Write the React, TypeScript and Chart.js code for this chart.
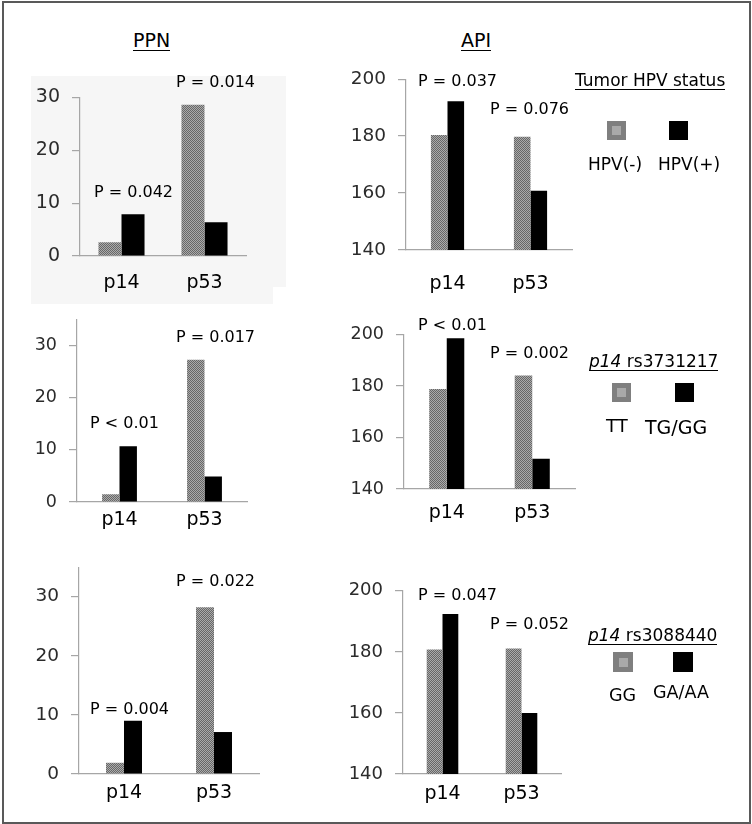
import React, { useEffect, useRef } from 'react';
import { Chart, registerables } from 'chart.js';

Chart.register(...registerables);

// ---------- data ----------
const categories = ['p14', 'p53'];

const ppnTicks = [0, 10, 20, 30];
const apiTicks = [140, 160, 180, 200];

// Row 1: tumor HPV status
const ppnHpvNeg = [2.6, 28.6];
const ppnHpvPos = [7.9, 6.4];
const apiHpvNeg = [180.4, 179.8];
const apiHpvPos = [192.2, 160.8];
const ppnHpvP = ['P = 0.042', 'P = 0.014'];
const apiHpvP = ['P = 0.037', 'P = 0.076'];

// Row 2: p14 rs3731217
const ppnTT = [1.5, 27.3];
const ppnTG = [10.7, 4.9];
const apiTT = [178.8, 184.1];
const apiTG = [198.5, 151.7];
const ppnRs1P = ['P < 0.01', 'P = 0.017'];
const apiRs1P = ['P < 0.01', 'P = 0.002'];

// Row 3: p14 rs3088440
const ppnGG = [1.9, 28.2];
const ppnGA = [9.0, 7.1];
const apiGG = [180.8, 181.1];
const apiGA = [192.4, 160.0];
const ppnRs2P = ['P = 0.004', 'P = 0.022'];
const apiRs2P = ['P = 0.047', 'P = 0.052'];

const legendHpv = ['HPV(-)', 'HPV(+)'];
const legendRs1 = ['TT', 'TG/GG'];
const legendRs2 = ['GG', 'GA/AA'];

// ---------- styles ----------
const FONT = '"DejaVu Sans", sans-serif';
const AXIS = '#a6a6a6';
const TICK_COLOR = '#2b2b2b';

function makePattern(): any {
  const c = document.createElement('canvas');
  c.width = 2;
  c.height = 2;
  const g = c.getContext('2d')!;
  g.fillStyle = '#ababab';
  g.fillRect(0, 0, 2, 2);
  g.fillStyle = '#676767';
  g.fillRect(0, 0, 1, 1);
  g.fillRect(1, 1, 1, 1);
  return g.createPattern(c, 'repeat');
}

type Area = { left: number; right: number; top: number; bottom: number };

const YW = 70;
const PT = 16;
const PR = 6;
const XH = 44;

function BarPanel(props: {
  area: Area;
  a: number[];
  b: number[];
  ticks: number[];
  axisMax: number;
  tickSize: number;
  xPad: number;
  frac: number;
}) {
  const { area, a, b, ticks, axisMax, tickSize, xPad, frac } = props;
  const ref = useRef<HTMLCanvasElement>(null);
  const w = area.right - area.left + YW + PR;
  const h = area.bottom - area.top + PT + XH;
  useEffect(() => {
    const chart = new Chart(ref.current!, {
      type: 'bar',
      data: {
        labels: categories,
        datasets: [
          { data: a, backgroundColor: makePattern(), borderWidth: 0, categoryPercentage: frac, barPercentage: 1 },
          { data: b, backgroundColor: '#000000', borderWidth: 0, categoryPercentage: frac, barPercentage: 1 },
        ],
      },
      options: {
        responsive: false,
        animation: false,
        devicePixelRatio: 1,
        layout: { padding: { left: 0, top: PT, right: PR, bottom: 0 } },
        plugins: { legend: { display: false }, tooltip: { enabled: false } },
        scales: {
          x: {
            offset: true,
            grid: { display: true, drawOnChartArea: false, drawTicks: false, color: 'rgba(0,0,0,0)' },
            border: { display: true, color: AXIS, width: 1.2 },
            ticks: { padding: xPad, color: '#000000', font: { family: FONT, size: 19 } },
            afterFit: (s: any) => {
              s.height = XH;
            },
          },
          y: {
            min: ticks[0],
            max: axisMax,
            grid: { drawOnChartArea: false, drawTicks: true, tickLength: 8, color: AXIS, lineWidth: 1.2 },
            border: { display: true, color: AXIS, width: 1.2 },
            ticks: { padding: 12, color: TICK_COLOR, font: { family: FONT, size: tickSize } },
            afterBuildTicks: (s: any) => {
              s.ticks = ticks.map((v) => ({ value: v }));
            },
            afterFit: (s: any) => {
              s.width = YW;
            },
          },
        },
      } as any,
    });
    return () => chart.destroy();
  }, []);
  return (
    <canvas
      ref={ref}
      width={w}
      height={h}
      style={{ position: 'absolute', left: area.left - YW, top: area.top - PT, width: w, height: h }}
    />
  );
}

// text placed by its cap-top
function Txt(props: {
  x: number;
  cap: number;
  size: number;
  underline?: boolean;
  children: any;
}) {
  const { x, cap, size, underline, children } = props;
  return (
    <div
      style={{
        position: 'absolute',
        left: x,
        top: cap - 0.117 * size,
        fontFamily: FONT,
        fontSize: size,
        lineHeight: `${size}px`,
        height: size,
        whiteSpace: 'nowrap',
        color: '#000',
        borderBottom: underline ? '1.5px solid #000' : undefined,
      }}
    >
      {children}
    </div>
  );
}

function Swatch(props: { x: number; y: number; s: number; gray: boolean }) {
  const { x, y, s, gray } = props;
  const inner = Math.round(s * 0.45);
  return (
    <div
      style={{
        position: 'absolute',
        left: x,
        top: y,
        width: s,
        height: s,
        background: gray ? '#7f7f7f' : '#000',
      }}
    >
      {gray ? (
        <div
          style={{
            position: 'absolute',
            left: (s - inner) / 2,
            top: (s - inner) / 2,
            width: inner,
            height: inner,
            background: '#a9a9a9',
          }}
        />
      ) : null}
    </div>
  );
}

export default function App() {
  return (
    <div
      style={{
        position: 'absolute',
        left: 0,
        top: 0,
        width: 752,
        height: 824,
        background: '#fff',
        overflow: 'hidden',
      }}
    >
      {/* outer frame */}
      <div
        style={{
          position: 'absolute',
          left: 2,
          top: 1,
          width: 745,
          height: 819,
          border: '2px solid #595959',
        }}
      />
      {/* light panel behind the first PPN chart */}
      <div style={{ position: 'absolute', left: 31, top: 76, width: 255, height: 211, background: '#f6f6f6' }} />
      <div style={{ position: 'absolute', left: 31, top: 287, width: 242, height: 17, background: '#f6f6f6' }} />

      {/* titles */}
      <Txt x={133} cap={33.5} size={19} underline>
        PPN
      </Txt>
      <Txt x={461} cap={33.5} size={19} underline>
        API
      </Txt>

      {/* row 1 */}
      <BarPanel area={{ left: 80, right: 246, top: 90, bottom: 256 }} a={ppnHpvNeg} b={ppnHpvPos} ticks={ppnTicks} axisMax={30} tickSize={19} xPad={16} frac={0.555} />
      <BarPanel area={{ left: 406, right: 572, top: 72, bottom: 250 }} a={apiHpvNeg} b={apiHpvPos} ticks={apiTicks} axisMax={200} tickSize={18.5} xPad={23} frac={0.4} />
      <Txt x={94} cap={186} size={16}>{ppnHpvP[0]}</Txt>
      <Txt x={176} cap={76} size={16}>{ppnHpvP[1]}</Txt>
      <Txt x={418} cap={75} size={16}>{apiHpvP[0]}</Txt>
      <Txt x={490} cap={103} size={16}>{apiHpvP[1]}</Txt>

      <Txt x={575} cap={74} size={17} underline>
        Tumor HPV status
      </Txt>
      <Swatch x={607} y={121} s={19} gray />
      <Swatch x={669} y={121} s={19} gray={false} />
      <Txt x={588} cap={158} size={17}>{legendHpv[0]}</Txt>
      <Txt x={658} cap={158} size={17}>{legendHpv[1]}</Txt>

      {/* row 2 */}
      <BarPanel area={{ left: 77, right: 247, top: 313, bottom: 502 }} a={ppnTT} b={ppnTG} ticks={ppnTicks} axisMax={35} tickSize={17.5} xPad={7} frac={0.41} />
      <BarPanel area={{ left: 404, right: 575, top: 328, bottom: 489 }} a={apiTT} b={apiTG} ticks={apiTicks} axisMax={200} tickSize={17.5} xPad={12.5} frac={0.41} />
      <Txt x={90} cap={417} size={16}>{ppnRs1P[0]}</Txt>
      <Txt x={176} cap={331} size={16}>{ppnRs1P[1]}</Txt>
      <Txt x={418} cap={318.5} size={16}>{apiRs1P[0]}</Txt>
      <Txt x={490} cap={347} size={16}>{apiRs1P[1]}</Txt>

      <Txt x={589} cap={355} size={17} underline>
        <i>p14</i> rs3731217
      </Txt>
      <Swatch x={612} y={383} s={19} gray />
      <Swatch x={675} y={383} s={19} gray={false} />
      <Txt x={606} cap={419} size={18}>{legendRs1[0]}</Txt>
      <Txt x={645} cap={420.5} size={19}>{legendRs1[1]}</Txt>

      {/* row 3 */}
      <BarPanel area={{ left: 79, right: 259, top: 560, bottom: 774 }} a={ppnGG} b={ppnGA} ticks={ppnTicks} axisMax={35} tickSize={18.5} xPad={7.5} frac={0.4} />
      <BarPanel area={{ left: 403, right: 561, top: 584, bottom: 774 }} a={apiGG} b={apiGA} ticks={apiTicks} axisMax={200} tickSize={18} xPad={9} frac={0.4} />
      <Txt x={90} cap={702.5} size={16}>{ppnRs2P[0]}</Txt>
      <Txt x={176} cap={575} size={16}>{ppnRs2P[1]}</Txt>
      <Txt x={418} cap={589} size={16}>{apiRs2P[0]}</Txt>
      <Txt x={490} cap={617.5} size={16}>{apiRs2P[1]}</Txt>

      <Txt x={588} cap={628.5} size={17} underline>
        <i>p14</i> rs3088440
      </Txt>
      <Swatch x={613} y={652} s={20} gray />
      <Swatch x={673} y={652} s={20} gray={false} />
      <Txt x={609} cap={689} size={17.5}>{legendRs2[0]}</Txt>
      <Txt x={653} cap={686} size={17.5}>{legendRs2[1]}</Txt>
    </div>
  );
}
